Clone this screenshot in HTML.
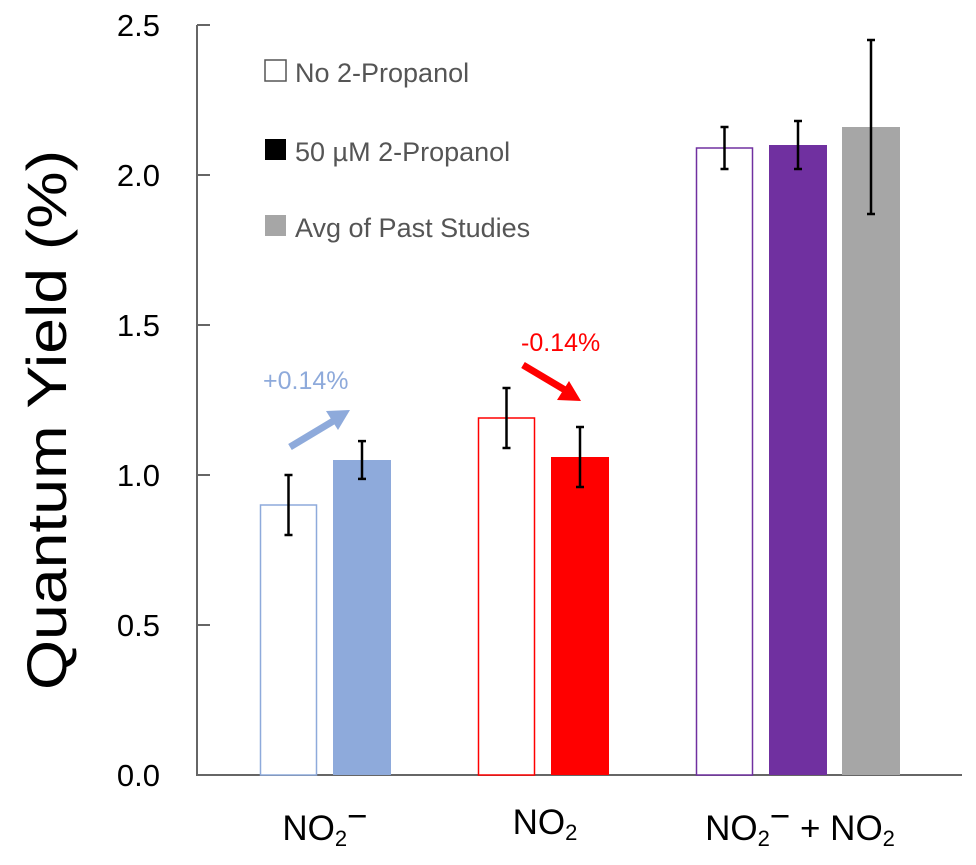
<!DOCTYPE html>
<html><head><meta charset="utf-8"><style>
body{margin:0;background:#fff;}
svg text{font-family:"Liberation Sans",sans-serif;}
</style></head><body>
<svg id="chart" width="976" height="860" viewBox="0 0 976 860" xmlns="http://www.w3.org/2000/svg">
<g id="marks"></g>
<text transform="translate(66,420) rotate(-90)" text-anchor="middle" font-size="56" textLength="540" lengthAdjust="spacingAndGlyphs" fill="#000">Quantum Yield (%)</text>
<g font-size="27" fill="#555">
  <rect x="265" y="60" width="21" height="21" fill="#fff" stroke="#555" stroke-width="1.5"/>
  <text x="295" y="82" fill="#555">No 2-Propanol</text>
  <rect x="265" y="139" width="21" height="21" fill="#000"/>
  <text x="295" y="161" fill="#555">50 µM 2-Propanol</text>
  <rect x="265" y="215" width="21" height="21" fill="#a6a6a6"/>
  <text x="295" y="237" fill="#555">Avg of Past Studies</text>
</g>
<g>
  <text x="263" y="389" font-size="25" fill="#8eaadb">+0.14%</text>
  <line x1="290" y1="447" x2="335" y2="420" stroke="#8eaadb" stroke-width="7"/>
  <polygon points="350,410 326,411 338,430" fill="#8eaadb"/>
</g>
<g>
  <text x="521" y="351" font-size="25" fill="#ff0000">-0.14%</text>
  <line x1="523" y1="365" x2="565" y2="390" stroke="#ff0000" stroke-width="7"/>
  <polygon points="581,401 557,400 569,381" fill="#ff0000"/>
</g>
<g font-size="35" fill="#000" text-anchor="middle">
  <text x="325" y="840">NO<tspan font-size="22" dy="6">2</tspan><tspan dy="-18">−</tspan></text>
  <text x="545" y="834">NO<tspan font-size="22" dy="6">2</tspan></text>
  <text x="800" y="840">NO<tspan font-size="22" dy="6">2</tspan><tspan dy="-18">−</tspan><tspan dy="12"> + NO</tspan><tspan font-size="22" dy="6">2</tspan></text>
</g>
</svg>
<script>
const categories = ["NO2-", "NO2", "NO2- + NO2"];
const noPropanol = [0.90, 1.19, 2.09];
const noPropanolErr = [0.10, 0.10, 0.07];
const withPropanol = [1.05, 1.06, 2.10];
const withPropanolErr = [0.063, 0.10, 0.08];
const pastStudies = [null, null, 2.16];
const pastStudiesErr = [null, null, 0.29];
const yTicks = [0, 0.5, 1.0, 1.5, 2.0, 2.5];
const yTickLabels = ["0.0", "0.5", "1.0", "1.5", "2.0", "2.5"];
const colors = ["#8eaadb", "#ff0000", "#7030a0"];

const NS = "http://www.w3.org/2000/svg";
const g = document.getElementById("marks");
const y0 = 775, pxPerUnit = 300;
function yScale(v){ return y0 - v * pxPerUnit; }
const groupStart = 260, groupStep = 218, barW = 57, barGap = 73;
function xBar(ci, si){ return groupStart + ci * groupStep + si * barGap; }
function mk(tag, attrs){ const e = document.createElementNS(NS, tag); for (const k in attrs) e.setAttribute(k, attrs[k]); g.appendChild(e); return e; }

let ax = mk("line", {x1:197, y1:25, x2:197, y2:y0, stroke:"#666", "stroke-width":2});


let xa = mk("line", {x1:196, y1:y0, x2:962, y2:y0, stroke:"#666", "stroke-width":2});


yTicks.forEach((t, i) => {
  const tk = mk("line", {x1:197, y1:yScale(t), x2:210, y2:yScale(t), stroke:"#666", "stroke-width":2});
  
  
  const lb = mk("text", {x:160, y:yScale(t) + 11, "text-anchor":"end", "font-size":31, fill:"#000"});
  lb.textContent = yTickLabels[i];
  
  
});

function errBar(cx, v, e){
  const top = yScale(v + e), bot = yScale(v - e);
  const l = mk("line", {x1:cx, y1:top, x2:cx, y2:bot, stroke:"#000", "stroke-width":2.5});
  
  
  [top, bot].forEach(yy => {
    const c = mk("line", {x1:cx-4, y1:yy, x2:cx+4, y2:yy, stroke:"#000", "stroke-width":2.5});
    
    
  });
}

categories.forEach((c, ci) => {
  let x = xBar(ci, 0);
  let r = mk("rect", {x:x+0.5, y:yScale(noPropanol[ci]), width:barW-1, height:y0 - yScale(noPropanol[ci]), fill:"#fff", stroke:colors[ci], "stroke-width":1.5});
  
  
  errBar(x + barW/2, noPropanol[ci], noPropanolErr[ci]);
  x = xBar(ci, 1);
  r = mk("rect", {x:x, y:yScale(withPropanol[ci]), width:barW+1, height:y0 - yScale(withPropanol[ci]), fill:colors[ci]});
  
  
  errBar(x + barW/2 + 0.5, withPropanol[ci], withPropanolErr[ci]);
  if (pastStudies[ci] != null) {
    x = xBar(ci, 2);
    r = mk("rect", {x:x, y:yScale(pastStudies[ci]), width:barW+1, height:y0 - yScale(pastStudies[ci]), fill:"#a6a6a6"});
    
    
    errBar(x + barW/2 + 0.5, pastStudies[ci], pastStudiesErr[ci]);
  }
});
</script>
</body></html>
